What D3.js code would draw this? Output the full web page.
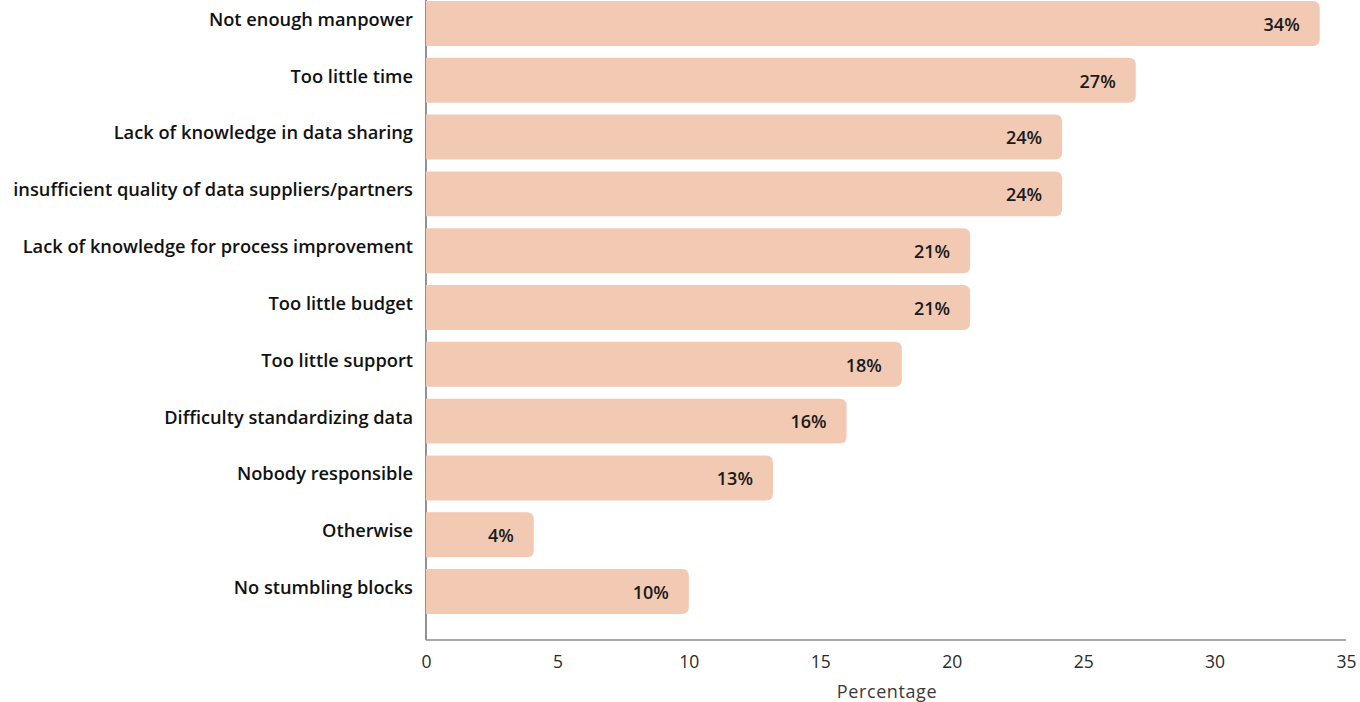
<!DOCTYPE html>
<html><head><meta charset="utf-8">
<script src="https://cdn.jsdelivr.net/npm/d3@7"></script>
<style>body{margin:0;background:#fff;} svg{display:block;}</style>
</head><body>
<svg id="c" width="1360" height="702"></svg>
<script>
const categories = ["Not enough manpower","Too little time","Lack of knowledge in data sharing","insufficient quality of data suppliers/partners","Lack of knowledge for process improvement","Too little budget","Too little support","Difficulty standardizing data","Nobody responsible","Otherwise","No stumbling blocks"];
const values = [34, 27, 24.2, 24.2, 20.7, 20.7, 18.1, 16, 13.2, 4.1, 10];
const valueLabels = ["34%","27%","24%","24%","21%","21%","18%","16%","13%","4%","10%"];
const xTicks = [0,5,10,15,20,25,30,35];

const svg = d3.select("#c");
const W = 1360;
const x = d3.scaleLinear().domain([0,35]).range([426, W - 14]);
const y = d3.scaleBand().domain(categories).range([1, 614]).paddingInner(0.21).paddingOuter(0);

const font = "'Open Sans', Lato, sans-serif";

// axes lines
svg.append("line").attr("x1", x(0)).attr("x2", x(0)).attr("y1", 0).attr("y2", 640)
  .attr("stroke", "#555566").attr("stroke-width", 1.3);
svg.append("line").attr("x1", x(0)).attr("x2", x(35)).attr("y1", 640).attr("y2", 640)
  .attr("stroke", "#8a8a96").attr("stroke-width", 1.3);

// bars with rounded right corners
const r = 7;
svg.selectAll("path.bar").data(categories).join("path").attr("class","bar")
  .attr("fill", "#F2C9B2")
  .attr("d", (d,i) => {
    const x0 = x(0), x1 = x(values[i]), y0 = y(d), h = y.bandwidth();
    return `M${x0},${y0}H${x1-r}Q${x1},${y0} ${x1},${y0+r}V${y0+h-r}Q${x1},${y0+h} ${x1-r},${y0+h}H${x0}Z`;
  });

// value labels
svg.selectAll("text.val").data(categories).join("text").attr("class","val")
  .attr("x", (d,i) => x(values[i]) - 20)
  .attr("y", d => y(d) + y.bandwidth()/2 + 1)
  .attr("dy", "0.35em").attr("text-anchor","end")
  .attr("font-family", font).attr("font-weight", 600).attr("font-size", 18)
  .attr("fill", "#1a1a1a")
  .text((d,i) => valueLabels[i]);

// category labels
const cats = svg.selectAll("text.cat").data(categories).join("text").attr("class","cat")
  .attr("x", 413)
  .attr("y", d => y(d) + y.bandwidth()/2 - 4)
  .attr("dy", "0.35em").attr("text-anchor","end")
  .attr("font-family", font).attr("font-weight", 600).attr("font-size", 17)
  .attr("fill", "#111")
  .text(d => d);
// fit font size so longest label spans ~400px
const longest = cats.filter((d,i) => i === 3).node();
const w = longest.getComputedTextLength();
cats.attr("font-size", 17 * 400 / w);

// x ticks
const ax = svg.append("g").attr("transform", "translate(0,640)")
  .call(d3.axisBottom(x).tickValues(xTicks).tickSize(0).tickPadding(16));
ax.select(".domain").remove();
ax.selectAll("text").attr("font-family", font).attr("font-size", 17.5).attr("fill", "#2a2a2a");

svg.append("text").attr("x", 887).attr("y", 698)
  .attr("text-anchor","middle").attr("font-family", font).attr("font-size", 18)
  .attr("fill", "#3a3a3a").attr("letter-spacing", "0.6px").text("Percentage");
</script>
</body></html>
